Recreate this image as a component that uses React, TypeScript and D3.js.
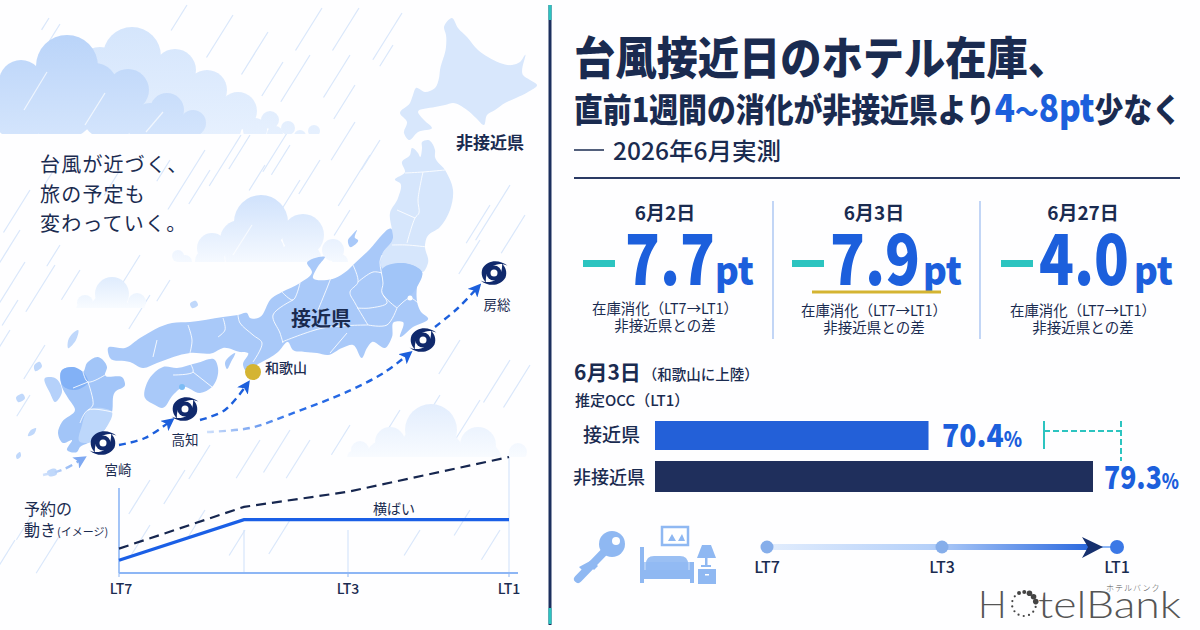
import * as d3 from 'd3'

const JP = '"Noto Sans CJK JP", "Noto Sans", sans-serif'
const NAVY = '#1a2b50'
const BLUE = '#1c5fdc'
const TEAL = '#2cc4c0'
const GOLD = '#d4b432'

// headline figures
const diffDates = ['6月2日', '6月3日', '6月27日']
const diffValues = [7.7, 7.9, 4.0]
const diffCenters = [665, 874, 1083]
const diffNumX = [625, 830, 1039]
const diffUnitX = [715, 923, 1134]

// OCC bars
const occLabels = ['接近県', '非接近県']
const occValues = [70.4, 79.3]

// booking image chart
const leadTimes = [7, 5, 3, 1]
const nearBookings = [11, 46, 46, 46]
const farBookings = [21, 57, 70, 100]
const timelineTicks = ['LT7', 'LT3', 'LT1']

// illustration outlines
type Pt = [number, number]
const hokkaido: Pt[] = [[452,18],[458,28],[467,37],[478,50],[488,57],[500,63],[512,65],[520,62],[525,55],[523,75],[530,80],[537,85],[528,92],[516,98],[505,103],[495,110],[487,115],[484,125],[476,118],[467,110],[453,103],[445,105],[435,107],[418,112],[424,120],[432,128],[418,132],[409,140],[404,133],[407,122],[400,113],[410,103],[413,95],[416,88],[425,92],[435,88],[439,78],[440,70],[446,47],[446,35],[444,27]]
const tohoku: Pt[] = [[422,148],[422,142],[428,140],[435,150],[435,157],[445,170],[453,190],[450,210],[440,227],[427,237],[425,245],[428,263],[423,272],[412,265],[403,263],[382,268],[382,255],[393,238],[392,230],[390,213],[398,198],[400,183],[395,180],[405,172],[402,162],[410,155],[412,148],[418,153],[420,157]]
const honshuNear: Pt[] = [[392,230],[393,238],[382,255],[382,268],[403,263],[412,265],[422,272],[417,287],[422,313],[428,318],[413,327],[400,337],[403,322],[394,322],[392,337],[385,348],[372,342],[367,348],[362,358],[353,345],[342,348],[328,355],[317,353],[305,352],[293,350],[288,342],[278,352],[260,363],[245,370],[243,365],[248,353],[240,352],[223,348],[213,353],[190,353],[157,363],[143,368],[130,362],[110,358],[108,348],[125,348],[140,338],[172,323],[190,322],[223,317],[238,315],[247,313],[250,318],[258,318],[272,298],[282,292],[300,283],[312,272],[307,263],[325,257],[317,268],[313,278],[327,280],[348,270],[353,265],[367,252]]
const shikoku: Pt[] = [[147,383],[155,372],[163,367],[177,368],[197,363],[215,360],[218,368],[212,387],[200,393],[183,387],[173,395],[162,408],[155,405],[145,398]]
const kyushu: Pt[] = [[62,370],[73,367],[83,372],[87,363],[98,357],[107,367],[105,375],[123,378],[125,385],[115,392],[112,412],[102,433],[88,443],[80,447],[77,452],[67,450],[72,440],[63,443],[58,433],[62,422],[75,410],[68,398],[62,387]]
const nagasaki: Pt[] = [[45,378],[55,378],[62,392],[55,402],[50,393]]
const fukuoka: Pt[] = [[62,370],[73,367],[83,372],[88,382],[75,390],[63,386]]
const miyazaki: Pt[] = [[88,410],[112,412],[102,433],[88,443],[80,442],[82,425]]
const ibaraki: Pt[] = [[383,268],[403,263],[412,265],[422,272],[417,287],[410,296],[395,305],[384,294]]
const islands: Pt[][] = [
  [[235,353],[231,362],[227,369],[225,363],[230,356]],
  [[357,230],[355,238],[358,240],[350,247],[348,240],[352,235]],
  [[78,330],[76,340],[68,348],[68,341],[73,333]],
  [[196,301],[198,305],[192,308],[190,304]],
  [[40,362],[42,366],[35,371],[34,366]],
  [[23,394],[25,398],[18,402],[16,398]],
  [[36,428],[34,434],[28,436],[31,430]],
  [[56,469],[57,474],[49,476],[47,472]],
  [[20,452],[21,456],[17,459],[16,456]],
]
const borders: Pt[][] = [
  [[405,173],[423,172],[445,170]],
  [[423,172],[418,200],[419,213],[415,218],[407,243]],
  [[397,210],[415,218]],
  [[392,245],[407,245],[427,247]],
  [[382,255],[380,262],[383,283],[382,293],[397,308]],
  [[353,265],[358,282],[350,292],[355,303],[368,325]],
  [[358,282],[373,272],[382,273]],
  [[383,295],[387,303],[370,308],[357,308]],
  [[332,275],[327,288],[318,310]],
  [[368,325],[387,325],[397,308]],
  [[397,308],[410,298],[420,305]],
  [[282,292],[293,300],[300,283]],
  [[293,300],[273,315],[280,333],[283,343]],
  [[238,315],[240,323],[253,335],[262,343],[253,362]],
  [[347,333],[330,353]],
  [[282,342],[323,328],[368,325]],
  [[223,318],[225,330],[218,337]],
  [[157,340],[153,357]],
  [[188,325],[192,340],[190,353]],
  [[190,363],[193,372],[173,375]],
  [[193,372],[212,387]],
  [[83,372],[88,382],[105,375]],
  [[88,382],[93,405],[88,410]],
  [[73,388],[88,382]],
  [[80,423],[88,410],[112,412]],
]

const typhoons: { name: string; x: number; y: number; lx: number; ly: number }[] = [
  { name: '宮崎', x: 103, y: 443, lx: 118, ly: 470 },
  { name: '高知', x: 185, y: 409, lx: 185, ly: 440 },
  { name: '', x: 423, y: 340, lx: 0, ly: 0 },
  { name: '房総', x: 494, y: 273, lx: 497, ly: 305 },
]
const routes: { pts: Pt[]; color: string; head: boolean }[] = [
  { pts: [[43,475],[62,470],[84,458]], color: 'url(#routeFade1)', head: false },
  { pts: [[119,445],[145,438],[172,420]], color: BLUE, head: true },
  { pts: [[200,420],[225,410],[248,383]], color: BLUE, head: true },
  { pts: [[207,432],[250,428],[288,415],[351,390],[385,372],[410,353]], color: 'url(#routeFade2)', head: true },
  { pts: [[435,327],[458,308],[479,286]], color: BLUE, head: true },
]

// rain: x, y of the upper end and length
const rain: [number, number, number][] = [
  [49,18,14],[60,24,20],[187,5,30],[233,15,50],[268,32,50],[322,8,50],[359,8,50],[402,13,55],[283,62,40],[310,55,55],[350,55,50],[393,45,25],[355,85,40],
  [250,135,40],[292,125,55],[355,122,45],[380,140,35],[241,135,60],[265,165,30],[205,150,70],[290,145,35],[320,160,40],
  [370,155,60],[350,210,30],[300,180,40],[210,170,40],[170,160,25],[120,170,30],[60,160,30],
  [30,190,50],[20,230,60],[25,262,60],[60,245,25],[140,255,40],[80,270,35],[55,265,55],[10,330,60],
  [170,280,25],[150,295,40],[18,300,30],[490,205,45],[510,185,65],[480,240,40],[525,215,45],
  [30,395,25],[45,345,40],[510,360,50],[460,340,40],[530,365,50],[480,400,50],[440,395,40],[290,430,50],[260,440,45],[210,445,40],[185,470,40],[150,480,40],
  [400,410,30],[350,425,35],[310,440,45],[35,510,35],[15,540,40],[60,535,45],[150,525,35],[205,510,35],[245,530,30],[290,520,40],[420,530,30],[470,510,30],[500,530,35],
]

const clouds: { base: number; fill: string; circles: [number, number, number][] }[] = [
  { base: 134, fill: 'url(#cloudBack)', circles: [[132,56,29],[100,72,25],[175,70,21],[207,90,20],[238,111,19],[270,120,9],[288,128,7],[314,131,6],[130,100,45],[185,112,30],[220,125,22],[255,130,12],[275,134,8],[300,136,6]] },
  { base: 134, fill: 'url(#cloudFront)', circles: [[67,66,31],[21,82,22],[128,90,21],[167,110,17],[193,123,13],[95,85,22],[60,100,40],[110,110,30],[20,110,30],[150,125,22],[175,130,15],[0,100,20]] },
  { base: 262, fill: 'url(#cloud2)', circles: [[261,222,27],[303,235,21],[212,248,15],[333,250,11],[178,256,6],[240,240,20],[255,255,30],[300,262,22],[210,262,15],[185,262,7],[340,262,8]] },
  { base: 308, fill: 'url(#cloud3)', circles: [[112,294,17],[85,303,8],[137,302,9],[110,312,20],[85,310,9],[135,310,10]] },
  { base: 457, fill: 'url(#cloud4)', circles: [[431,430,26],[478,445,18],[390,442,15],[360,450,9],[518,452,9],[430,460,35],[385,460,20],[480,462,22],[355,458,8],[515,458,8]] },
]

const polyPath = d3.line<Pt>().curve(d3.curveCatmullRomClosed.alpha(1))
const openPath = d3.line<Pt>().curve(d3.curveCatmullRom.alpha(0.5))

function Typhoon({ x, y }: { x: number; y: number }) {
  // two spiral arms leaving a thick ring, the gap opens towards the tip
  const arm = 'M13.4 -7.4 C6 -13.5 -6 -14 -11.5 -4.5 C-13.5 1 -11.5 6 -8 9.5 C-8.6 5 -7.2 -2.5 -2 -6.4 C3 -10 9 -9.6 13.4 -7.4Z'
  return (
    <g transform={`translate(${x},${y})`} fill="#10296c">
      <path d={arm} />
      <path d={arm} transform="rotate(180)" />
      <circle r={7.6} />
      <circle r={3.5} fill="#fff" />
    </g>
  )
}

function JapanMap() {
  const land = (pts: Pt[], fill: string, key?: number) => <path key={key} d={polyPath(pts) ?? ''} fill={fill} />
  return (
    <g>
      {land(hokkaido, '#d8e7fc')}
      {land(tohoku, '#d6e6fc')}
      {land(honshuNear, '#a9c9f9')}
      {land(ibaraki, '#a1c5f8')}
      {land(shikoku, '#a9c9f9')}
      {land(kyushu, '#a2c5f8')}
      {land(nagasaki, '#b5d1fa')}
      {land(fukuoka, '#82b1f6')}
      {land(miyazaki, '#bdd7fb')}
      {islands.map((p, i) => land(p, i < 2 ? '#a9c9f9' : '#c0d8fb', i))}
      <circle cx={410} cy={298} r={2.5} fill="#fff" />
      {borders.map((b, i) => (
        <path key={i} d={openPath(b) ?? ''} fill="none" stroke="#fff" strokeWidth={1} opacity={0.85} />
      ))}
      <circle cx={182} cy={387} r={3} fill="#7cbcf5" />
    </g>
  )
}

function BookingChart() {
  const x = d3.scaleLinear().domain(leadTimes).range([119, 244, 348, 509])
  const y = d3.scaleLinear().domain([0, 100]).range([573, 457])
  const line = d3.line<number>().x((_, i) => x(leadTimes[i])).y(d => y(d))
  return (
    <g>
      {leadTimes.map(lt => (
        <line key={lt} x1={x(lt)} x2={x(lt)} y1={lt === 7 ? 488 : lt === 1 ? 457 : 530} y2={573} stroke={lt === 7 ? '#8db6f5' : '#d5e4fb'} strokeWidth={lt === 7 ? 1.6 : 1.2} />
      ))}
      <line x1={119} x2={518} y1={573} y2={573} stroke="#8db6f5" strokeWidth={1.8} />
      <path d={line(farBookings) ?? ''} fill="none" stroke="#16264f" strokeWidth={2.2} strokeDasharray="10 6" />
      <path d={line(nearBookings) ?? ''} fill="none" stroke="#1a5fe6" strokeWidth={3.2} />
      <text x={394} y={514} textAnchor="middle" fontSize={14} fill={NAVY}>横ばい</text>
      {[7, 3, 1].map(lt => (
        <g key={lt}>
          <line x1={x(lt)} x2={x(lt)} y1={573} y2={577} stroke="#8db6f5" />
          <text x={x(lt) + (lt === 7 ? 2 : 0)} y={594} textAnchor="middle" fontSize={14} fontWeight={500} fill={NAVY}>{`LT${lt}`}</text>
        </g>
      ))}
      <text x={24} y={515} fontSize={16} fill={NAVY}>予約の</text>
      <text x={24} y={536} fontSize={16} fill={NAVY}>動き<tspan fontSize={11} dx={1}>(イメージ)</tspan></text>
    </g>
  )
}

function Headline({ i }: { i: number }) {
  const cx = diffCenters[i]
  const minusX = cx - 82
  const capY = i === 0 ? 0 : 2
  return (
    <g>
      <text x={cx} y={220} textAnchor="middle" fontSize={19} fontWeight={700} fill={NAVY}>{diffDates[i]}</text>
      <rect x={minusX} y={260} width={32} height={7} fill={TEAL} />
      <text x={diffNumX[i]} y={285} fontSize={70} fontWeight={900} fill={BLUE} textLength={90} lengthAdjust="spacingAndGlyphs">{diffValues[i].toFixed(1)}</text>
      <text x={diffUnitX[i]} y={285} fontSize={38} fontWeight={900} fill={BLUE} textLength={39} lengthAdjust="spacingAndGlyphs">pt</text>
      <text x={cx} y={314 + capY} textAnchor="middle" fontSize={14.5} fill={NAVY} textLength={146} lengthAdjust="spacingAndGlyphs">在庫消化（LT7→LT1）</text>
      <text x={cx} y={331 + capY} textAnchor="middle" fontSize={14.5} fill={NAVY}>非接近県との差</text>
    </g>
  )
}

function OccBars() {
  // the bars do not start at zero in the original
  const x = d3.scaleLinear().domain([55.6, 79.3]).range([655, 1093])
  const bandTop = [421, 461]
  const bandH = [29, 31]
  const fills = ['#2360d8', '#1f2f5c']
  const labelY = [442, 484]
  const labelX = [640, 645]
  const valueX = [942, 1104]
  const valueY = [447, 489]
  const valueW = [80, 75]
  return (
    <g>
      {occValues.map((v, i) => (
        <g key={occLabels[i]}>
          <rect x={x.range()[0]} y={bandTop[i]} width={x(v) - x.range()[0]} height={bandH[i]} fill={fills[i]} />
          <text x={labelX[i]} y={labelY[i]} textAnchor="end" fontSize={i === 0 ? 19 : 18} fontWeight={500} fill={NAVY}>{occLabels[i]}</text>
          <text x={valueX[i]} y={valueY[i]} fontSize={32} fontWeight={800} fill={BLUE} textLength={valueW[i]} lengthAdjust="spacingAndGlyphs">
            {v.toFixed(1)}<tspan fontSize={21}>%</tspan>
          </text>
        </g>
      ))}
      <line x1={1044} x2={1044} y1={421} y2={449} stroke={TEAL} strokeWidth={2} />
      <line x1={1044} x2={1121} y1={431} y2={431} stroke={TEAL} strokeWidth={2} strokeDasharray="6 3" />
      <line x1={1121} x2={1121} y1={421} y2={461} stroke={TEAL} strokeWidth={2} strokeDasharray="6 3" />
    </g>
  )
}

function Icons() {
  const c = '#8fb8f2'
  return (
    <g>
      {/* key */}
      <g fill={c}>
        <line x1={608} y1={548} x2={578} y2={579} stroke={c} strokeWidth={8} strokeLinecap="round" />
        <circle cx={612} cy={544} r={13} />
        <path d="M592 560 l6 6 -4 4 -3 -3 -3 3 -2 -2 -3 3 -4 -4z" />
      </g>
      <circle cx={616} cy={541} r={4} fill="#fff" />
      {/* picture */}
      <rect x={662} y={527} width={26} height={18} fill="#fff" stroke={c} strokeWidth={2.5} />
      <path d="M668 541 l4 -7 4 7z M678 541 l4 -7 3 7z" fill={c} />
      {/* bed */}
      <g fill={c}>
        <rect x={640} y={547} width={4} height={36} />
        <rect x={690} y={562} width={4} height={21} />
        <rect x={644} y={570} width={46} height={9} />
        <path d="M646 564 q0 -8 8 -8 h26 q8 0 8 8 v6 h-42z" opacity={0.9} />
        <rect x={644} y={562} width={46} height={8} opacity={0.7} />
      </g>
      {/* lamp and night table */}
      <g fill={c}>
        <path d="M702 545 h9 l5 13 h-19z" />
        <rect x={705} y={558} width={2.5} height={8} />
        <rect x={701} y={565} width={10} height={2} />
        <rect x={698} y={569} width={18} height={15} />
      </g>
      <rect x={705} y={574} width={4} height={1.5} fill="#fff" />
    </g>
  )
}

function Timeline() {
  const x = d3.scalePoint<string>().domain(timelineTicks).range([767, 1117])
  return (
    <g>
      <line x1={767} x2={1090} y1={547} y2={547} stroke="url(#timeFade)" strokeWidth={6} />
      <line x1={1100} x2={1117} y1={547} y2={547} stroke="#8db6f5" strokeWidth={2} />
      <path d="M1082 537 L1103 547 L1082 558 L1088 547Z" fill="#16306e" />
      {timelineTicks.map((t, i) => (
        <g key={t}>
          <circle cx={x(t)} cy={547} r={i === 2 ? 7 : 6.5} fill={i === 2 ? '#3b78e6' : '#86aeea'} />
          <text x={x(t)} y={573} textAnchor="middle" fontSize={16} fontWeight={500} fill={NAVY}>{t}</text>
        </g>
      ))}
    </g>
  )
}

function Logo() {
  const dots = d3.range(14).map(i => {
    const a = (i / 14) * Math.PI * 2 - Math.PI * 0.35
    return [1024 + Math.cos(a) * 12, 604 + Math.sin(a) * 12, i < 3 ? 2.8 : i > 11 ? 2 : 1.1] as const
  })
  return (
    <g fill="#555" fontFamily="Lato, sans-serif" fontWeight={300}>
      <text x={978} y={618} fontSize={38}>H</text>
      {dots.map((d, i) => <circle key={i} cx={d[0]} cy={d[1]} r={d[2]} fill="#444" />)}
      <text x={1038} y={618} fontSize={38} textLength={143} lengthAdjust="spacingAndGlyphs">telBank</text>
      <text x={1106} y={591} fontSize={8} fontFamily={JP} letterSpacing={1}>ホテルバンク</text>
    </g>
  )
}

export default function App() {
  return (
    <svg width={1200} height={630} viewBox="0 0 1200 630" fontFamily={JP} style={{ position: 'absolute', left: 0, top: 0 }}>
      <defs>
        <linearGradient id="cloudBack" gradientUnits="userSpaceOnUse" x1="0" x2="0" y1="25" y2="134">
          <stop offset="0" stopColor="#d4e5fc" /><stop offset="1" stopColor="#e6f0fe" />
        </linearGradient>
        <linearGradient id="cloudFront" gradientUnits="userSpaceOnUse" x1="0" x2="0" y1="35" y2="134">
          <stop offset="0" stopColor="#bad4f9" /><stop offset="1" stopColor="#d3e4fc" />
        </linearGradient>
        <linearGradient id="cloud2" gradientUnits="userSpaceOnUse" x1="0" x2="0" y1="195" y2="262">
          <stop offset="0" stopColor="#d0e2fc" /><stop offset="1" stopColor="#f5f9ff" />
        </linearGradient>
        <linearGradient id="cloud3" gradientUnits="userSpaceOnUse" x1="0" x2="0" y1="277" y2="308">
          <stop offset="0" stopColor="#dfecfd" /><stop offset="1" stopColor="#f8fbff" />
        </linearGradient>
        <linearGradient id="cloud4" gradientUnits="userSpaceOnUse" x1="0" x2="0" y1="402" y2="457">
          <stop offset="0" stopColor="#e2edfd" /><stop offset="1" stopColor="#f8fbff" />
        </linearGradient>
        <linearGradient id="routeFade1" gradientUnits="userSpaceOnUse" x1="43" x2="90" y1="475" y2="454">
          <stop offset="0" stopColor="#d2e2fb" /><stop offset="1" stopColor="#6d9ff0" />
        </linearGradient>
        <linearGradient id="routeFade2" gradientUnits="userSpaceOnUse" x1="207" x2="410" y1="432" y2="353">
          <stop offset="0" stopColor="#cfe0fb" /><stop offset="0.4" stopColor="#2a6de8" /><stop offset="1" stopColor={BLUE} />
        </linearGradient>
        <linearGradient id="timeFade" gradientUnits="userSpaceOnUse" x1="767" x2="1090" y1="0" y2="0">
          <stop offset="0" stopColor="#e2edfd" /><stop offset="0.5" stopColor="#b5d0f9" /><stop offset="1" stopColor="#2a68de" />
        </linearGradient>
        <filter id="soft" x="-5%" y="-5%" width="110%" height="110%"><feGaussianBlur stdDeviation="0.6" /></filter>
        {clouds.map((c, i) => (
          <clipPath key={i} id={`cloudClip${i}`}><rect x={0} y={0} width={550} height={c.base} /></clipPath>
        ))}
        <marker id="routeHead" viewBox="0 0 12 12" refX="9" refY="6" markerWidth="13" markerHeight="13" markerUnits="userSpaceOnUse" orient="auto">
          <path d="M0 0 L12 6 L0 12 L3 6Z" fill={BLUE} />
        </marker>
        <marker id="routeHeadLight" viewBox="0 0 12 12" refX="9" refY="6" markerWidth="13" markerHeight="13" markerUnits="userSpaceOnUse" orient="auto">
          <path d="M0 0 L12 6 L0 12 L3 6Z" fill="#7fa9f2" />
        </marker>
      </defs>
      <rect width={1200} height={630} fill="#fefeff" />

      {/* left panel */}
      <g stroke="#d3e3fa" strokeWidth={1.2} opacity={0.85}>
        {rain.map(([x, y, l], i) => (
          <line key={i} x1={x} y1={y} x2={x - l * 0.53} y2={y + l * 0.85} />
        ))}
      </g>
      {clouds.map((c, i) => (
        <g key={i} clipPath={`url(#cloudClip${i})`}>
          <g filter="url(#soft)">
            {c.circles.map((p, j) => <circle key={j} cx={p[0]} cy={p[1]} r={p[2]} fill={c.fill} />)}
          </g>
        </g>
      ))}
      <g stroke="#fff" strokeWidth={1.2} opacity={0.7}>
        <line x1={47} y1={72} x2={24} y2={110} />
        <line x1={105} y1={93} x2={85} y2={125} />
        <line x1={163} y1={112} x2={146} y2={132} />
        <line x1={252} y1={225} x2={233} y2={255} />
      </g>

      <JapanMap />
      {routes.map((r, i) => (
        <path key={i} d={openPath(r.pts) ?? ''} fill="none" stroke={r.color} strokeWidth={2.4} strokeDasharray="7 5" markerEnd={r.head ? 'url(#routeHead)' : 'url(#routeHeadLight)'} />
      ))}
      <circle cx={253} cy={372} r={8} fill={GOLD} />
      {typhoons.map(t => (
        <g key={`${t.x}`}>
          <Typhoon x={t.x} y={t.y} />
          {t.name && <text x={t.lx} y={t.ly + 5} textAnchor="middle" fontSize={13.5} fill={NAVY}>{t.name}</text>}
        </g>
      ))}
      <text x={265} y={373} fontSize={14} fontWeight={500} fill={NAVY}>和歌山</text>
      <text x={291} y={326} fontSize={20} fontWeight={700} fill={NAVY}>接近県</text>
      <text x={456} y={149} fontSize={17} fontWeight={700} fill={NAVY}>非接近県</text>
      <g fontSize={20} fill={NAVY} letterSpacing={1.2}>
        <text x={40} y={172}>台風が近づく、</text>
        <text x={40} y={202}>旅の予定も</text>
        <text x={40} y={231}>変わっていく。</text>
      </g>
      <BookingChart />

      {/* divider */}
      <rect x={548.5} y={5} width={3} height={620} fill="#1b2f5e" />
      <rect x={548.5} y={5} width={3} height={15} fill={TEAL} />
      <rect x={548.5} y={608} width={3} height={16} fill={TEAL} />

      {/* title */}
      <text x={574} y={75} fontSize={45} fontWeight={900} fill={NAVY} textLength={495} lengthAdjust="spacingAndGlyphs">台風接近日のホテル在庫、</text>
      <text x={574} y={122} fontSize={33} fontWeight={800} fill={NAVY} textLength={607} lengthAdjust="spacingAndGlyphs">
        直前1週間の消化が非接近県より<tspan fill={BLUE} fontSize={38}>4<tspan fontSize={27}>〜</tspan>8pt</tspan>少なく
      </text>
      <line x1={574} x2={604} y1={150} y2={150} stroke={NAVY} strokeWidth={1.5} />
      <text x={613} y={160} fontSize={24} fontWeight={500} fill={NAVY} textLength={168} lengthAdjust="spacingAndGlyphs">2026年6月実測</text>
      <line x1={574} x2={1180} y1={178} y2={178} stroke="#2a3a64" strokeWidth={2} />

      {diffValues.map((_, i) => <Headline key={i} i={i} />)}
      <line x1={773} x2={773} y1={201} y2={339} stroke="#a8c4f2" strokeWidth={1.4} />
      <line x1={980} x2={980} y1={201} y2={339} stroke="#a8c4f2" strokeWidth={1.4} />
      <rect x={812} y={290.5} width={129} height={3} fill={GOLD} />

      {/* OCC */}
      <text x={574} y={380} fontSize={21} fontWeight={700} fill={NAVY}>6月3日<tspan fontSize={14.5} fontWeight={500} dx={2}>（和歌山に上陸）</tspan></text>
      <text x={575} y={406} fontSize={15} fontWeight={500} fill={NAVY}>推定OCC（LT1）</text>
      <OccBars />
      <Icons />
      <Timeline />
      <Logo />
    </svg>
  )
}
